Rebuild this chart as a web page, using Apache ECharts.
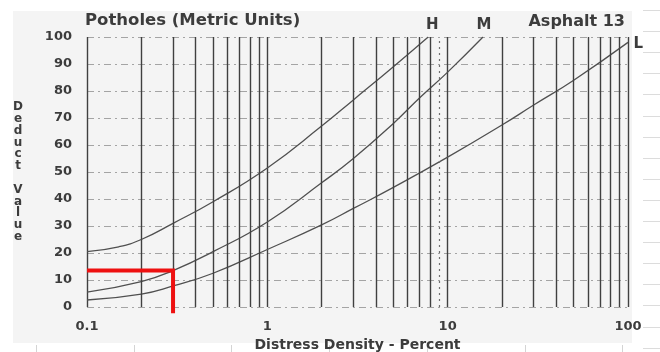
<!DOCTYPE html>
<html>
<head>
<meta charset="utf-8">
<title>Potholes (Metric Units) - Asphalt 13</title>
<script src="https://cdn.jsdelivr.net/npm/echarts@6/dist/echarts.min.js"></script>
<style>
  html, body { margin: 0; padding: 0; background: #ffffff; }
  #chart { width: 660px; height: 352px; }
</style>
</head>
<body>
<div id="chart"></div>
<script>
// Deduct value curves for potholes (asphalt), by severity level.
// x = distress density (percent, log scale), y = deduct value.
const highDensity   = [0.1, 0.15, 0.2, 0.3, 0.5, 1, 2, 3, 5, 7.8];
const highDeduct    = [20.5, 22.3, 25, 31, 39, 51.5, 67, 76.7, 89, 100];

const mediumDensity = [0.1, 0.2, 0.3, 0.5, 1, 2, 3, 5, 7, 10, 15.7];
const mediumDeduct  = [5.5, 9.4, 13.5, 20.5, 31.5, 46, 55, 68, 77.5, 87, 100];

const lowDensity    = [0.1, 0.2, 0.3, 0.5, 1, 2, 3, 5, 10, 20, 30, 50, 100];
const lowDeduct     = [2.6, 4.8, 7.8, 12.5, 21.3, 30.4, 36.5, 44.3, 55.5, 67.4, 74.8, 84, 98];

const severityNames = ['H', 'M', 'L'];

// Worked example: density 0.3 % at medium severity reads a deduct value of 13.5
const exampleDensity = [0.1, 0.3, 0.3];
const exampleDeduct  = [13.5, 13.5, -2.3];

// Log-paper rulings between the decades, and the decade labels
const minorDensities = [0.2, 0.3, 0.4, 0.5, 0.6, 0.7, 0.8, 0.9,
                        2, 3, 4, 5, 6, 7, 8, 9,
                        20, 30, 40, 50, 60, 70, 80, 90];
const decadeTicks = [0.1, 1, 10, 100];
const deductTicks = [0, 10, 20, 30, 40, 50, 60, 70, 80, 90, 100];

const INK = '#3c3c3c';
const FONT = '"DejaVu Sans", "Liberation Sans", sans-serif';

function pairs(xs, ys) {
  return xs.map((x, i) => [x, ys[i]]);
}

function curve(name, xs, ys, labelPos, labelOffset) {
  const data = pairs(xs, ys);
  return {
    name: name,
    type: 'line',
    data: data,
    smooth: 0.5,
    showSymbol: false,
    symbol: 'none',
    lineStyle: { color: '#505050', width: 1.3 },
    z: 4,
    silent: true,
    markPoint: {
      silent: true,
      symbol: 'rect',
      symbolSize: 1,
      itemStyle: { color: 'rgba(0,0,0,0)' },
      label: {
        show: true,
        formatter: name,
        position: labelPos,
        distance: 0,
        offset: labelOffset,
        color: INK,
        fontFamily: FONT,
        fontWeight: 'bold',
        fontSize: 15
      },
      data: [{ coord: data[data.length - 1] }]
    }
  };
}

// Faint rulings of the surrounding page
const pageMarks = [];
for (let y = 10; y < 352; y += 21.1) {
  pageMarks.push({ type: 'line', z: -9, silent: true,
    shape: { x1: 643, y1: Math.round(y) + 0.5, x2: 660, y2: Math.round(y) + 0.5 },
    style: { stroke: '#dcdcdc', lineWidth: 1 } });
}
for (let x = 36; x < 640; x += 97.7) {
  pageMarks.push({ type: 'line', z: -9, silent: true,
    shape: { x1: Math.round(x) + 0.5, y1: 345, x2: Math.round(x) + 0.5, y2: 352 },
    style: { stroke: '#d4d4d4', lineWidth: 1 } });
}

const chart = echarts.init(document.getElementById('chart'), null, { renderer: 'canvas' });

const option = {
  backgroundColor: '#ffffff',
  animation: false,
  graphic: [
    { type: 'rect', z: -10, silent: true, shape: { x: 13, y: 11, width: 619, height: 332 }, style: { fill: '#f4f4f4' } }
  ].concat(pageMarks),
  title: [
    {
      text: 'Potholes (Metric Units)',
      left: 80, top: 7,
      textStyle: { color: INK, fontFamily: FONT, fontWeight: 'bold', fontSize: 16.5 }
    },
    {
      text: 'Asphalt 13',
      right: 30, top: 9,
      textStyle: { color: INK, fontFamily: FONT, fontWeight: 'bold', fontSize: 16 }
    }
  ],
  grid: { left: 87, right: 32, top: 37, bottom: 45, containLabel: false, outerBoundsMode: 'none' },
  xAxis: {
    type: 'log',
    logBase: 10,
    min: 0.1,
    max: 100,
    name: 'Distress Density - Percent',
    nameLocation: 'middle',
    nameGap: 27,
    nameTextStyle: { color: INK, fontFamily: FONT, fontWeight: 'bold', fontSize: 14 },
    axisLine: { show: false },
    axisTick: { show: false },
    axisLabel: {
      color: INK, fontFamily: FONT, fontWeight: 'bold', fontSize: 13, margin: 13,
      formatter: v => (decadeTicks.indexOf(+v.toPrecision(6)) >= 0 ? String(+v.toPrecision(6)) : '')
    },
    splitLine: { show: true, lineStyle: { color: '#404040', width: 1.4 } }
  },
  yAxis: {
    type: 'value',
    min: 0,
    max: 100,
    interval: 10,
    name: 'D\ne\nd\nu\nc\nt\n\nV\na\nl\nu\ne',
    nameLocation: 'middle',
    nameRotate: 0,
    nameGap: 69,
    nameTextStyle: {
      color: INK, fontFamily: FONT, fontWeight: 'bold', fontSize: 12,
      lineHeight: 11.8, align: 'center', verticalAlign: 'middle'
    },
    axisLine: { show: false },
    axisTick: { show: false },
    axisLabel: {
      color: INK, fontFamily: FONT, fontWeight: 'bold', fontSize: 13, margin: 15,
      formatter: v => (deductTicks.indexOf(v) >= 0 ? String(v) : '')
    },
    splitLine: { show: true, lineStyle: { color: '#a4a4a4', width: 1, type: [7, 4, 2, 4] } }
  },
  series: [
    {
      name: 'rulings',
      type: 'line',
      data: [],
      silent: true,
      z: 2,
      markLine: {
        silent: true,
        symbol: 'none',
        label: { show: false },
        animation: false,
        data: minorDensities.map(v => ({
          xAxis: v,
          lineStyle: v === 9
            ? { color: '#707070', width: 1.2, type: [2, 4] }
            : { color: '#404040', width: 1.4, type: 'solid' }
        }))
      }
    },
    curve(severityNames[0], highDensity, highDeduct, 'top', [4, -4]),
    curve(severityNames[1], mediumDensity, mediumDeduct, 'top', [1, -4]),
    curve(severityNames[2], lowDensity, lowDeduct, 'right', [5, 2]),
    {
      name: 'example',
      type: 'line',
      data: pairs(exampleDensity, exampleDeduct),
      clip: false,
      symbol: 'none',
      z: 6,
      silent: true,
      lineStyle: { color: '#ee1111', width: 4, cap: 'butt', join: 'miter' }
    }
  ]
};

chart.setOption(option);
</script>
</body>
</html>
